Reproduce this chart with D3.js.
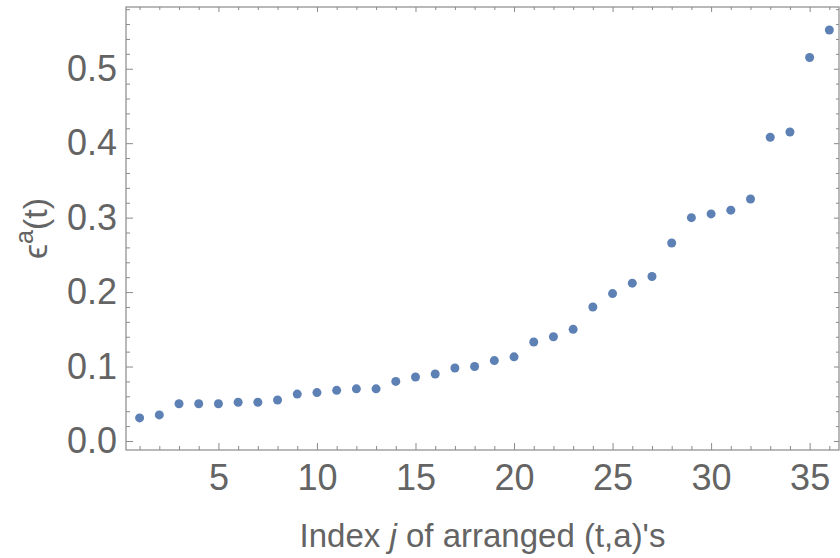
<!DOCTYPE html>
<html>
<head>
<meta charset="utf-8">
<script src="https://cdn.jsdelivr.net/npm/d3@7"></script>
<style>
  body { margin: 0; background: #fff; }
  text { font-family: "Liberation Sans", Arial, sans-serif; fill: #646464; }
</style>
</head>
<body>
<svg width="840" height="558"></svg>
<script>
// index j of each arranged (t,a) pair and its error value
var index = [1, 2, 3, 4, 5, 6, 7, 8, 9, 10, 11, 12, 13, 14, 15, 16, 17, 18,
             19, 20, 21, 22, 23, 24, 25, 26, 27, 28, 29, 30, 31, 32, 33, 34, 35, 36];
var eps = [0.031, 0.035, 0.050, 0.050, 0.050, 0.052, 0.052, 0.055, 0.063, 0.065,
           0.068, 0.070, 0.070, 0.080, 0.086, 0.090, 0.098, 0.100, 0.108, 0.113,
           0.133, 0.140, 0.150, 0.180, 0.198, 0.212, 0.221, 0.266, 0.300, 0.305,
           0.310, 0.325, 0.408, 0.415, 0.515, 0.552];

var xTicks = [5, 10, 15, 20, 25, 30, 35];
var yTicks = [0, 0.1, 0.2, 0.3, 0.4, 0.5];
var yTickLabels = ["0.0", "0.1", "0.2", "0.3", "0.4", "0.5"];

var svg = d3.select("svg"),
    width = +svg.attr("width"),
    height = +svg.attr("height"),
    margin = {top: 7, right: 1, bottom: 108, left: 126};

var frameColor = "#8a8a8a";

var x = d3.scaleLinear()
    .domain([0.31, 36.49])
    .range([margin.left, width - margin.right]);
var y = d3.scaleLinear()
    .domain([-0.0121, 0.5829])
    .range([height - margin.bottom, margin.top]);

var xMinor = d3.range(1, 37).filter(function(v) { return v % 5 !== 0; });
var yMinor = d3.range(0, 30).map(function(i) { return i / 50; })
    .filter(function(v, i) { return i % 5 !== 0 && y(v) > margin.top + 2; });

function styleAxis(g) {
  g.select(".domain").remove();
  g.selectAll("line").attr("stroke", frameColor);
  g.selectAll("text")
      .attr("font-size", 36)
      .attr("fill", "#646464")
      .attr("font-family", "Liberation Sans, Arial, sans-serif");
}

// bottom
svg.append("g")
    .attr("transform", "translate(0," + (height - margin.bottom) + ")")
    .call(d3.axisBottom(x).tickValues(xTicks).tickSize(-7).tickPadding(14).tickFormat(d3.format("d")))
    .call(styleAxis);
svg.append("g")
    .attr("transform", "translate(0," + (height - margin.bottom) + ")")
    .call(d3.axisBottom(x).tickValues(xMinor).tickSize(-4).tickFormat(""))
    .call(styleAxis);

// top
svg.append("g")
    .attr("transform", "translate(0," + margin.top + ")")
    .call(d3.axisTop(x).tickValues(xTicks).tickSize(-5).tickFormat(""))
    .call(styleAxis);
svg.append("g")
    .attr("transform", "translate(0," + margin.top + ")")
    .call(d3.axisTop(x).tickValues(xMinor).tickSize(-3).tickFormat(""))
    .call(styleAxis);

// left
svg.append("g")
    .attr("transform", "translate(" + margin.left + ",0)")
    .call(d3.axisLeft(y).tickValues(yTicks).tickSize(-7).tickPadding(9)
        .tickFormat(function(d, i) { return yTickLabels[i]; }))
    .call(styleAxis);
svg.append("g")
    .attr("transform", "translate(" + margin.left + ",0)")
    .call(d3.axisLeft(y).tickValues(yMinor).tickSize(-4).tickFormat(""))
    .call(styleAxis);

// right
svg.append("g")
    .attr("transform", "translate(" + (width - margin.right) + ",0)")
    .call(d3.axisRight(y).tickValues(yTicks).tickSize(-5).tickFormat(""))
    .call(styleAxis);
svg.append("g")
    .attr("transform", "translate(" + (width - margin.right) + ",0)")
    .call(d3.axisRight(y).tickValues(yMinor).tickSize(-3).tickFormat(""))
    .call(styleAxis);

// frame
svg.append("rect")
    .attr("x", margin.left)
    .attr("y", margin.top)
    .attr("width", width - margin.right - margin.left)
    .attr("height", height - margin.bottom - margin.top)
    .attr("fill", "none")
    .attr("stroke", frameColor)
    .attr("stroke-width", 1.2);

// points
svg.append("g")
    .attr("fill", "#5e81b5")
  .selectAll("circle")
  .data(index)
  .enter().append("circle")
    .attr("cx", function(d) { return x(d); })
    .attr("cy", function(d, i) { return y(eps[i]); })
    .attr("r", 4.5);

// axis labels
var xl = svg.append("text")
    .attr("x", (margin.left + width - margin.right) / 2)
    .attr("y", 547)
    .attr("text-anchor", "middle")
    .attr("font-size", 33);
xl.append("tspan").text("Index ");
xl.append("tspan").attr("font-style", "italic").text("j");
xl.append("tspan").text(" of arranged (t,a)'s");

var yl = svg.append("text")
    .attr("transform", "translate(47," + ((margin.top + height - margin.bottom) / 2) + ") rotate(-90)")
    .attr("text-anchor", "middle")
    .attr("font-size", 34);
yl.append("tspan").text("\u03f5");
yl.append("tspan").attr("font-size", 25).attr("dy", -14).text("a");
yl.append("tspan").attr("dy", 14).text("(t)");
</script>
</body>
</html>
